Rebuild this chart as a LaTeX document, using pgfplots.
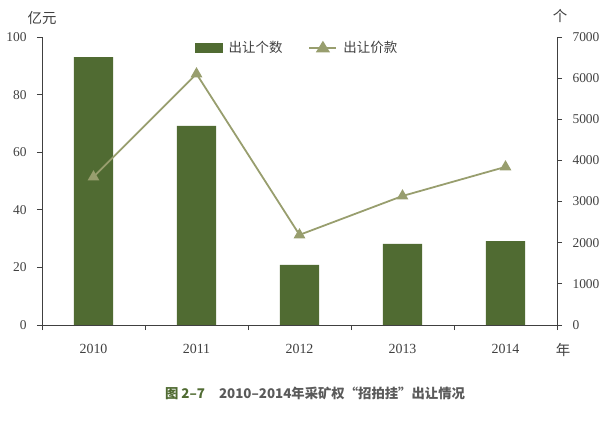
\documentclass[border=0pt]{standalone}
\usepackage{fontspec}
\setmainfont{Liberation Serif}
\newfontfamily\cjk{Noto Sans CJK SC}
\usepackage{pgfplots}
\pgfplotsset{compat=1.18}
\definecolor{barc}{RGB}{80,107,50}
\definecolor{linec}{RGB}{152,158,110}
\definecolor{axc}{RGB}{64,64,64}
\definecolor{capg}{RGB}{90,90,90}
\begin{document}
\begin{tikzpicture}[x=1bp,y=1bp]
\useasboundingbox (0,0) rectangle (616,421);
% bars on right axis
\begin{axis}[at={(42bp,96bp)}, anchor=south west, width=515bp, height=288bp, scale only axis,
  xmin=-0.5, xmax=4.5, ymin=0, ymax=7000,
  axis y line*=right, hide x axis,
  ytick={0,1000,...,7000}, tick align=outside, major tick length=5bp,
  axis line style={axc, line width=0.8pt}, tick style={axc, line width=0.8pt},
  /pgf/number format/assume math mode=true,
  /pgf/number format/1000 sep={},
  yticklabel style={font=\fontsize{13.5}{15}\selectfont, text=axc, xshift=7bp},
]
\addplot[ybar, bar width=0.38, fill=barc, draw=none] coordinates {(0,6510) (1,4840) (2,1460) (3,1970) (4,2040)};
\end{axis}
% line on left axis
\begin{axis}[at={(42bp,96bp)}, anchor=south west, width=515bp, height=288bp, scale only axis,
  xmin=-0.5, xmax=4.5, ymin=0, ymax=100,
  axis y line*=left, axis x line*=bottom,
  ytick={0,20,...,100}, tick align=outside, major tick length=5bp,
  xtick={0,...,4}, xticklabels={2010,2011,2012,2013,2014},
  minor xtick={-0.5,0.5,...,4.5}, minor tick length=5bp,
  axis line style={axc, line width=0.8pt}, tick style={axc, line width=0.8pt},
  xtick style={draw=none}, minor x tick style={draw=axc, line width=0.8pt},
  /pgf/number format/assume math mode=true,
  xticklabel style={font=\fontsize{14}{16}\selectfont, text=axc, yshift=-11bp},
  yticklabel style={font=\fontsize{13.5}{15}\selectfont, text=axc, xshift=-7bp},
  legend style={at={(0.29,0.962)}, anchor=west, draw=none, fill=none, legend columns=2,
    font=\cjk\fontsize{13.5}{15}\selectfont, text=axc, /tikz/every even column/.append style={column sep=24bp}},
]
\addlegendimage{legend image code/.code={\fill[barc] (0bp,-4.5bp) rectangle (27bp,4.5bp); \path[draw=none,fill=none] (0bp,0bp) -- (32bp,0bp);}}
\addlegendentry{出让个数}
\addplot[linec, line width=1.8pt, mark=triangle*, mark size=5bp, mark options={fill=linec, draw=linec},
  legend image code/.code={\draw[linec, line width=1.8pt] (0bp,0bp) -- (27bp,0bp); \fill[linec] (13.5bp,5.5bp) -- (8bp,-3.5bp) -- (19bp,-3.5bp) -- cycle; \path[draw=none,fill=none] (0bp,0bp) -- (32bp,0bp);}]
  coordinates {(0,51.4) (1,87.2) (2,31.3) (3,44.8) (4,54.9)};
\addlegendentry{出让价款}
\end{axis}
\node[font=\cjk\fontsize{14.5}{16}\selectfont, text=axc] at (42,403) {亿元};
\node[font=\cjk\fontsize{14.5}{16}\selectfont, text=axc] at (560,405) {个};
\node[font=\cjk\fontsize{14.5}{16}\selectfont, text=axc] at (563,71) {年};
\node[font=\cjk\bfseries\fontsize{13.4}{15}\selectfont, text=capg] at (315,28) {\textcolor{barc}{图 2–7}\hspace{14bp}2010–2014年采矿权“招拍挂”出让情况};
\end{tikzpicture}
\end{document}
